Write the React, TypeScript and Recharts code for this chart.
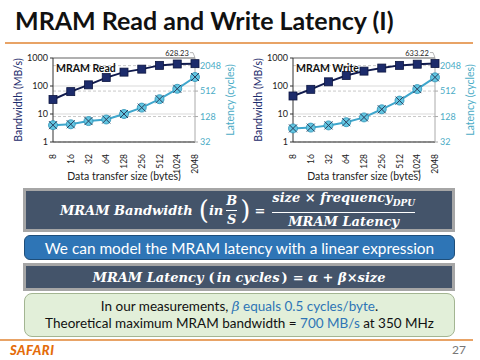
import React from 'react';
import {
  ComposedChart,
  Line,
  XAxis,
  YAxis,
  CartesianGrid,
  ReferenceLine,
} from 'recharts';

const sizes = ['8', '16', '32', '64', '128', '256', '512', '1024', '2048'];
const readBandwidth = [33, 63, 110, 200, 313, 400, 545, 610, 628.23];
const readLatency = [80, 84, 100, 109, 147, 208, 329, 580, 1100];
const writeBandwidth = [44, 76, 141, 237, 340, 437, 545, 600, 633.22];
const writeLatency = [67, 70, 79, 94, 122, 190, 305, 570, 1080];
const bandwidthTicks = [1, 10, 100, 1000];
const latencyTicks = [32, 128, 512, 2048];

const NAVY = '#1c2b6b';
const TEAL = '#4bacc6';
const ORANGE = '#e8a366';

const SquareDot = (props: any) => {
  const { cx, cy } = props;
  if (cx == null || cy == null) return <g />;
  return <rect x={cx - 4} y={cy - 4} width={8} height={8} fill={NAVY} stroke="#0d1640" strokeWidth={0.8} />;
};

const CrossDot = (props: any) => {
  const { cx, cy } = props;
  if (cx == null || cy == null) return <g />;
  return (
    <g>
      <circle cx={cx} cy={cy} r={4.5} fill="#62c6e2" stroke="#2f90b4" strokeWidth={0.8} />
      <line x1={cx - 4} y1={cy - 4} x2={cx + 4} y2={cy + 4} stroke="#2b3e5c" strokeWidth={1} />
      <line x1={cx - 4} y1={cy + 4} x2={cx + 4} y2={cy - 4} stroke="#2b3e5c" strokeWidth={1} />
    </g>
  );
};

const SizeTick = (props: any) => {
  const { x, y, payload } = props;
  return (
    <text
      transform={`translate(${x + 3},${y + 4}) rotate(-90)`}
      textAnchor="end"
      fontSize={8.5}
      fill="#222"
      fontFamily="Lato, sans-serif"
    >
      {payload.value}
    </text>
  );
};

const makePeakLabel = (lastIndex: number) => (props: any) => {
  const { x, y, index, value } = props;
  if (index !== lastIndex || x == null) return <g />;
  return (
    <g>
      <text x={x - 18} y={y - 8} textAnchor="middle" fontSize={7.5} fill="#222" fontFamily="Lato, sans-serif">
        {value}
      </text>
      <polyline points={`${x - 5},${y - 11} ${x - 2},${y - 11} ${x},${y - 6}`} fill="none" stroke="#999" strokeWidth={0.7} />
    </g>
  );
};

interface PanelProps {
  title: string;
  bandwidth: number[];
  latency: number[];
  left: number;
}

const LatencyChart: React.FC<PanelProps> = ({ title, bandwidth, latency, left }) => {
  const data = sizes.map((s, i) => ({ size: s, bw: bandwidth[i], lat: latency[i] }));
  const tickStyle = { fontSize: 9, fontFamily: 'Lato, sans-serif' };
  return (
    <div style={{ position: 'absolute', left, top: 45, width: 240, height: 136 }}>
      <ComposedChart width={240} height={136} data={data} margin={{ top: 13, right: 5, left: 0, bottom: 1 }}>
        <CartesianGrid yAxisId="bw" vertical={false} stroke="#d9d9d9" horizontalValues={bandwidthTicks} />
        <CartesianGrid yAxisId="lat" vertical={false} stroke="#c8c8c8" strokeDasharray="3 2" horizontalValues={latencyTicks} />
        <XAxis dataKey="size" height={38} interval={0} tick={<SizeTick />} tickLine={false} axisLine={{ stroke: '#333' }}
          label={{ value: 'Data transfer size (bytes)', position: 'insideBottom', offset: 0, style: { fontSize: 10.5, fill: '#222', fontFamily: 'Lato, sans-serif' } }} />
        <YAxis yAxisId="bw" type="number" scale="log" domain={[1, 1000]} ticks={bandwidthTicks} allowDataOverflow width={53}
          tick={{ ...tickStyle, fill: '#222' }} tickSize={3} axisLine={{ stroke: '#333' }} tickLine={{ stroke: '#333' }}
          label={{ value: 'Bandwidth (MB/s)', angle: -90, position: 'insideLeft', offset: 18, style: { textAnchor: 'middle', fontSize: 10.5, fill: NAVY, fontFamily: 'Lato, sans-serif' } }} />
        <YAxis yAxisId="lat" orientation="right" type="number" scale="log" domain={[32, 3100]} ticks={latencyTicks} allowDataOverflow width={40}
          tick={{ ...tickStyle, fill: TEAL }} tickSize={3} axisLine={{ stroke: '#aaa' }} tickLine={{ stroke: '#aaa' }}
          label={{ value: 'Latency (cycles)', angle: -90, position: 'insideRight', offset: 5, style: { textAnchor: 'middle', fontSize: 10.5, fill: TEAL, fontFamily: 'Lato, sans-serif' } }} />
        <ReferenceLine yAxisId="bw" y={1000} stroke="#b0b0b0" strokeWidth={2} />
        <Line yAxisId="lat" dataKey="lat" stroke="#3fa6cc" strokeWidth={2} dot={<CrossDot />} isAnimationActive={false} />
        <Line yAxisId="bw" dataKey="bw" stroke="#101a4d" strokeWidth={2} dot={<SquareDot />} isAnimationActive={false}
          label={makePeakLabel(sizes.length - 1)} />
      </ComposedChart>
      <div style={{ position: 'absolute', left: 56, top: 17, fontSize: 10.5, fontWeight: 700, fontFamily: 'Lato, sans-serif', color: '#111' }}>
        {title}
      </div>
    </div>
  );
};

const mathFont = '"DejaVu Serif", serif';

const Frac: React.FC<{ top: React.ReactNode; bottom: React.ReactNode }> = ({ top, bottom }) => (
  <span style={{ display: 'inline-flex', flexDirection: 'column', alignItems: 'center', verticalAlign: 'middle', margin: '0 3px' }}>
    <span style={{ lineHeight: '18px' }}>{top}</span>
    <span style={{ borderTop: '1.5px solid #fff', width: '100%', textAlign: 'center', lineHeight: '18px' }}>{bottom}</span>
  </span>
);

export default function App() {
  return (
    <div style={{ position: 'fixed', left: 0, top: 0, width: 480, height: 360, background: '#fff', overflow: 'hidden', fontFamily: 'Lato, sans-serif' }}>
      <div style={{ position: 'absolute', left: 15, top: 5, fontSize: 25, fontWeight: 700, color: '#111', whiteSpace: 'nowrap' }}>
        MRAM Read and Write Latency (I)
      </div>
      <div style={{ position: 'absolute', left: 5, top: 42, width: 468, height: 1.5, background: ORANGE }} />

      <LatencyChart title="MRAM Read" bandwidth={readBandwidth} latency={readLatency} left={0} />
      <LatencyChart title="MRAM Write" bandwidth={writeBandwidth} latency={writeLatency} left={240} />

      <div style={{ position: 'absolute', left: 23, top: 188, width: 426, height: 38, background: '#44546a', border: '3px solid #a6a6a6',
        display: 'flex', alignItems: 'center', justifyContent: 'center', color: '#fff', fontFamily: mathFont, fontStyle: 'italic', fontWeight: 700, fontSize: 13, whiteSpace: 'nowrap' }}>
        <span>MRAM Bandwidth</span>
        <span style={{ fontStyle: 'normal', fontSize: 26, margin: '0 0 0 6px', fontWeight: 200 }}>(</span>
        <span>in</span>
        <Frac top="B" bottom="S" />
        <span style={{ fontStyle: 'normal', fontSize: 26, fontWeight: 200 }}>)</span>
        <span style={{ fontStyle: 'normal', margin: '0 4px' }}>=</span>
        <Frac top={<span>size × frequency<sub style={{ fontSize: 9 }}>DPU</sub></span>} bottom="MRAM Latency" />
      </div>

      <div style={{ position: 'absolute', left: 24, top: 235, width: 429, height: 23, background: '#2e75b6', border: '1.5px solid #1f4e79', borderRadius: 6,
        display: 'flex', alignItems: 'center', justifyContent: 'center', color: '#fff', fontSize: 15.4, whiteSpace: 'nowrap' }}>
        We can model the MRAM latency with a linear expression
      </div>

      <div style={{ position: 'absolute', left: 23, top: 263, width: 426, height: 22, background: '#44546a', border: '3px solid #a6a6a6',
        display: 'flex', alignItems: 'center', justifyContent: 'center', color: '#fff', fontFamily: mathFont, fontStyle: 'italic', fontWeight: 700, fontSize: 13, whiteSpace: 'nowrap' }}>
        MRAM Latency <span style={{ fontStyle: 'normal', margin: '0 2px 0 5px' }}>(</span>in cycles<span style={{ fontStyle: 'normal', margin: '0 5px 0 2px' }}>)</span>
        <span style={{ fontStyle: 'normal' }}>=</span>&nbsp;α&nbsp;<span style={{ fontStyle: 'normal' }}>+</span>&nbsp;β<span style={{ fontStyle: 'normal' }}>×</span>size
      </div>

      <div style={{ position: 'absolute', left: 24, top: 293, width: 429, height: 42, background: '#e2efd9', border: '1.5px solid #a3b592', borderRadius: 8,
        display: 'flex', flexDirection: 'column', alignItems: 'center', justifyContent: 'center', color: '#111', fontSize: 13.5, lineHeight: '17px', whiteSpace: 'nowrap' }}>
        <div>In our measurements, <span style={{ color: '#2e75b6' }}><i style={{ fontFamily: mathFont }}>β</i> equals 0.5 cycles/byte</span>.</div>
        <div>Theoretical maximum MRAM bandwidth = <span style={{ color: '#2e75b6' }}>700 MB/s</span> at 350 MHz</div>
      </div>

      <div style={{ position: 'absolute', left: 0, top: 339, width: 473, height: 1.5, background: ORANGE }} />
      <div style={{ position: 'absolute', left: 10, top: 342, fontSize: 13, fontWeight: 900, fontStyle: 'italic', color: '#e46c0a', letterSpacing: 0.5 }}>
        SAFARI
      </div>
      <div style={{ position: 'absolute', left: 452, top: 342, fontSize: 12, color: '#777' }}>27</div>
    </div>
  );
}
